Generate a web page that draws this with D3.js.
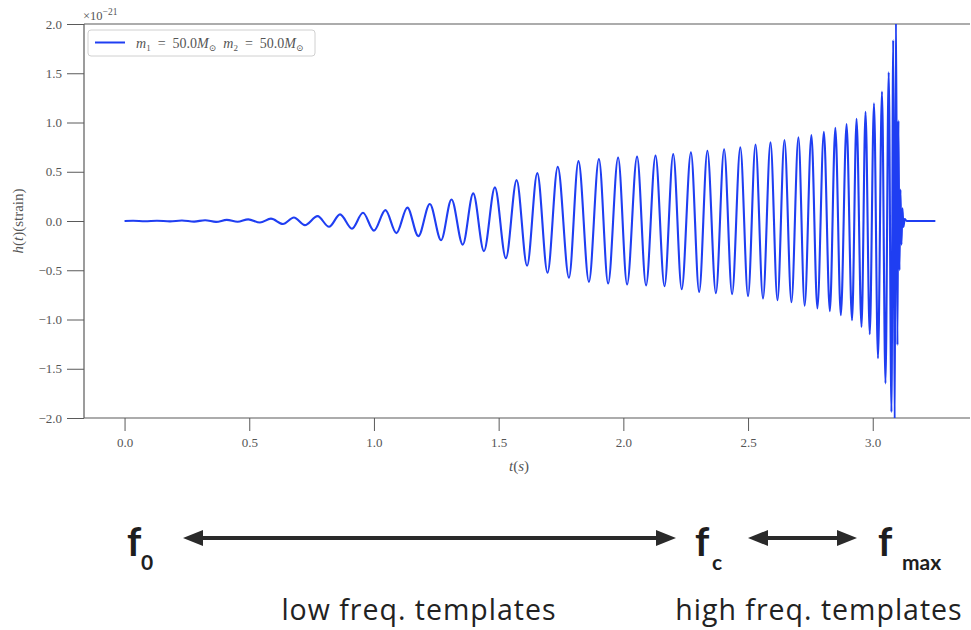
<!DOCTYPE html>
<html>
<head>
<meta charset="utf-8">
<script src="https://cdn.jsdelivr.net/npm/d3@7/dist/d3.min.js"></script>
<style>
  body { margin: 0; background: #fff; overflow: hidden; }
  svg { display: block; }
</style>
</head>
<body>
<svg id="chart" width="971" height="630"></svg>
<script>
// Chirp waveform: successive peaks and troughs of the strain h(t), in units of 1e-21
const waveTimes = [
  0.000, 0.034, 0.082, 0.130, 0.182, 0.230, 0.279, 0.323, 0.367, 0.410,
  0.453, 0.496, 0.543, 0.587, 0.635, 0.679, 0.723, 0.774, 0.820, 0.864,
  0.912, 0.956, 1.000, 1.046, 1.090, 1.134, 1.178, 1.224, 1.269, 1.311,
  1.356, 1.398, 1.441, 1.485, 1.529, 1.572, 1.614, 1.655, 1.696, 1.737,
  1.782, 1.820, 1.862, 1.902, 1.939, 1.979, 2.015, 2.055, 2.091, 2.129,
  2.165, 2.200, 2.234, 2.271, 2.304, 2.337, 2.371, 2.404, 2.436, 2.469,
  2.500, 2.530, 2.560, 2.590, 2.618, 2.646, 2.674, 2.702, 2.727, 2.754,
  2.778, 2.804, 2.828, 2.850, 2.872, 2.895, 2.917, 2.935, 2.955, 2.971,
  2.988, 3.005, 3.021, 3.037, 3.051, 3.064, 3.075, 3.082, 3.088, 3.093,
  3.099, 3.103, 3.107, 3.111, 3.115, 3.119, 3.123, 3.128, 3.136, 3.251
];
const waveStrain = [
  0.000, 0.002, -0.002, 0.003, -0.004, 0.005, -0.006, 0.008, -0.009, 0.011,
  -0.008, 0.017, -0.015, 0.024, -0.030, 0.036, -0.042, 0.049, -0.059, 0.067,
  -0.078, 0.083, -0.098, 0.110, -0.123, 0.136, -0.154, 0.173, -0.195, 0.219,
  -0.240, 0.280, -0.306, 0.341, -0.378, 0.415, -0.454, 0.486, -0.525, 0.550,
  -0.576, 0.608, -0.618, 0.629, -0.635, 0.644, -0.645, 0.654, -0.654, 0.664,
  -0.662, 0.679, -0.693, 0.697, -0.720, 0.713, -0.733, 0.728, -0.743, 0.747,
  -0.764, 0.776, -0.787, 0.798, -0.804, 0.822, -0.825, 0.849, -0.860, 0.872,
  -0.887, 0.906, -0.916, 0.947, -0.957, 0.984, -1.008, 1.038, -1.076, 1.109,
  -1.150, 1.195, -1.394, 1.313, -1.648, 1.510, -1.940, 1.838, -2.150, 2.150,
  -1.260, 1.020, -0.500, 0.320, -0.240, 0.130, -0.060, 0.020, 0.000, 0.000
];

const xTicks = [0.0, 0.5, 1.0, 1.5, 2.0, 2.5, 3.0];
const yTicks = [-2.0, -1.5, -1.0, -0.5, 0.0, 0.5, 1.0, 1.5, 2.0];
const xDomain = [-0.1626, 3.414];
const yDomain = [-2.0, 2.0];
const massOne = 50.0;
const massTwo = 50.0;

const svg = d3.select("#chart");
const W = 971, H = 630;
const plot = { left: 84, top: 24, right: 976, bottom: 418 };

const x = d3.scaleLinear().domain(xDomain).range([plot.left, plot.right]);
const y = d3.scaleLinear().domain(yDomain).range([plot.bottom, plot.top]);

svg.append("rect").attr("width", W).attr("height", H).attr("fill", "#fff");

// clip region for the waveform
svg.append("defs").append("clipPath").attr("id", "plot-clip")
  .append("rect")
  .attr("x", plot.left).attr("y", plot.top)
  .attr("width", W - plot.left).attr("height", plot.bottom - plot.top);

const tickFont = "'Liberation Serif', 'DejaVu Serif', serif";
const fmt = d3.format(".1f");

// axes
const xAxis = svg.append("g")
  .attr("transform", `translate(0,${plot.bottom})`)
  .call(d3.axisBottom(x).tickValues(xTicks).tickSize(13).tickPadding(7).tickFormat(fmt));
const yAxis = svg.append("g")
  .attr("transform", `translate(${plot.left},0)`)
  .call(d3.axisLeft(y).tickValues(yTicks).tickSize(17).tickPadding(5).tickFormat(fmt));

[xAxis, yAxis].forEach(g => {
  g.attr("font-family", null);
  g.select(".domain").remove();
  g.selectAll(".tick line").attr("stroke", "#5a5a5a").attr("stroke-width", 1);
  g.selectAll(".tick text")
    .attr("fill", "#555")
    .style("font-family", tickFont)
    .style("font-size", "13px");
});

// spines: left, top and bottom (the right one falls past the page edge)
const spine = svg.append("g").attr("stroke", "#5a5a5a").attr("stroke-width", 1.2).attr("fill", "none");
spine.append("line").attr("x1", plot.left).attr("x2", plot.left).attr("y1", plot.top).attr("y2", plot.bottom);
spine.append("line").attr("x1", plot.left).attr("x2", W - 1).attr("y1", plot.top).attr("y2", plot.top);
spine.append("line").attr("x1", plot.left).attr("x2", W - 1).attr("y1", plot.bottom).attr("y2", plot.bottom);

// waveform
const waveData = waveTimes.map((t, i) => ({ t, h: waveStrain[i] }));
const line = d3.line().x(d => x(d.t)).y(d => y(d.h)).curve(d3.curveMonotoneX);
const waveColor = "#1f3ef2";
svg.append("path")
  .datum(waveData)
  .attr("clip-path", "url(#plot-clip)")
  .attr("d", line)
  .attr("fill", "none")
  .attr("stroke", waveColor)
  .attr("stroke-width", 2.1)
  .attr("stroke-linejoin", "round");

// offset text above the y axis
const offset = svg.append("text")
  .attr("x", plot.left - 1).attr("y", 20)
  .attr("fill", "#555")
  .style("font-family", tickFont).style("font-size", "12.5px");
offset.append("tspan").text("×10");
offset.append("tspan").attr("dy", -5).style("font-size", "9.5px").text("−21");

// axis labels
const xl = svg.append("text")
  .attr("x", 519).attr("y", 471)
  .attr("text-anchor", "middle")
  .attr("fill", "#555")
  .style("font-family", tickFont).style("font-size", "15px");
xl.append("tspan").style("font-style", "italic").text("t");
xl.append("tspan").text("(");
xl.append("tspan").style("font-style", "italic").text("s");
xl.append("tspan").text(")");

const yl = svg.append("text")
  .attr("transform", "translate(23,221) rotate(-90)")
  .attr("text-anchor", "middle")
  .attr("fill", "#555")
  .style("font-family", tickFont).style("font-size", "15px");
yl.append("tspan").style("font-style", "italic").text("h");
yl.append("tspan").text("(");
yl.append("tspan").style("font-style", "italic").text("t");
yl.append("tspan").text(")(strain)");

// legend
const lg = svg.append("g");
lg.append("rect")
  .attr("x", 88).attr("y", 30).attr("width", 227).attr("height", 26).attr("rx", 3)
  .attr("fill", "#fff").attr("fill-opacity", 0.85)
  .attr("stroke", "#d0d0d0").attr("stroke-width", 1);
lg.append("line")
  .attr("x1", 95).attr("x2", 125).attr("y1", 42.5).attr("y2", 42.5)
  .attr("stroke", waveColor).attr("stroke-width", 2);
const lt = lg.append("text")
  .attr("x", 136).attr("y", 47.5)
  .attr("fill", "#555")
  .style("font-family", tickFont).style("font-size", "14px")
  .style("white-space", "pre");
function massTerm(sub, value) {
  lt.append("tspan").style("font-style", "italic").text("m");
  lt.append("tspan").attr("dy", 3).style("font-size", "9px").text(sub);
  lt.append("tspan").attr("dy", -3).text(`  =  ${value.toFixed(1)}`);
  lt.append("tspan").style("font-style", "italic").text("M");
  lt.append("tspan").attr("dy", 3).style("font-size", "9px").text("⊙");
  lt.append("tspan").attr("dy", -3).text(" ");
}
massTerm("1", massOne);
lt.append("tspan").text(" ");
massTerm("2", massTwo);

// frequency band annotation below the chart
const ann = svg.append("g").attr("fill", "#1e1e1e");
const annFont = "Lato, 'Open Sans', sans-serif";
function freqLabel(xPos, sub, subX) {
  ann.append("text").attr("x", xPos).attr("y", 556)
    .style("font-family", annFont).style("font-weight", 700).style("font-size", "40px").text("f");
  ann.append("text").attr("x", subX).attr("y", 570)
    .style("font-family", annFont).style("font-weight", 700).style("font-size", "21px").text(sub);
}
freqLabel(127, "0", 141);
freqLabel(695, "c", 712);
freqLabel(878, "max", 902);

function doubleArrow(x1, x2, yy) {
  const head = 20, half = 8;
  ann.append("line").attr("x1", x1 + head - 2).attr("x2", x2 - head + 2)
    .attr("y1", yy).attr("y2", yy).attr("stroke", "#2a2a2a").attr("stroke-width", 4);
  ann.append("path").attr("fill", "#2a2a2a")
    .attr("d", `M${x1},${yy} L${x1 + head},${yy - half} L${x1 + head},${yy + half} Z`);
  ann.append("path").attr("fill", "#2a2a2a")
    .attr("d", `M${x2},${yy} L${x2 - head},${yy - half} L${x2 - head},${yy + half} Z`);
}
doubleArrow(183, 676, 538);
doubleArrow(748, 857, 538);

const noteFont = "'Open Sans', Lato, sans-serif";
ann.append("text").attr("x", 419).attr("y", 620).attr("text-anchor", "middle")
  .attr("fill", "#222")
  .style("font-family", noteFont).style("font-size", "28.5px").style("letter-spacing", "1px")
  .text("low freq. templates");
ann.append("text").attr("x", 819).attr("y", 620).attr("text-anchor", "middle")
  .attr("fill", "#222")
  .style("font-family", noteFont).style("font-size", "28.5px").style("letter-spacing", "1px")
  .text("high freq. templates");
</script>
</body>
</html>
